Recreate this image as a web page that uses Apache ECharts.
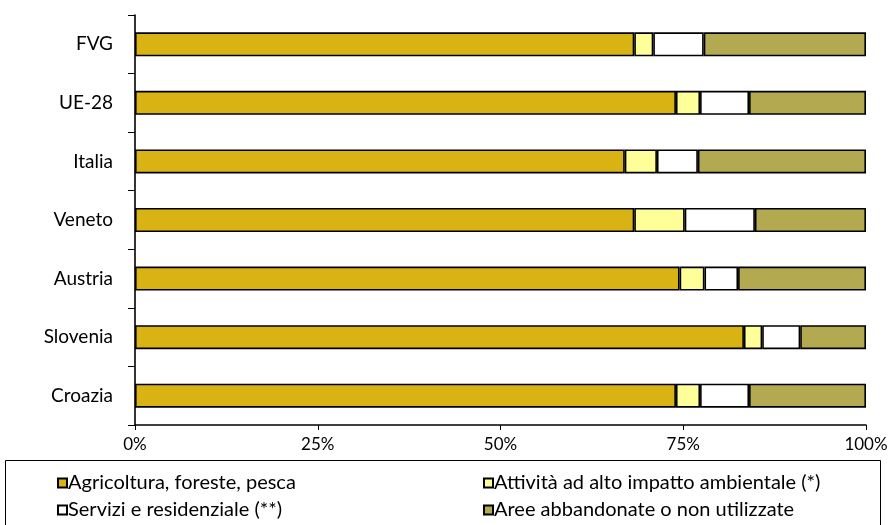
<!DOCTYPE html>
<html>
<head>
<meta charset="utf-8">
<script src="https://cdn.jsdelivr.net/npm/echarts@6/dist/echarts.min.js"></script>
<style>
  html, body { margin: 0; padding: 0; background: #fff; }
  #main { width: 891px; height: 525px; }
</style>
</head>
<body>
<div id="main"></div>
<script>
var regioni = ['FVG', 'UE-28', 'Italia', 'Veneto', 'Austria', 'Slovenia', 'Croazia'];
var agricoltura = [68.3, 74.0, 67.0, 68.3, 74.5, 83.3, 74.0];
var altoImpatto = [2.6, 3.3, 4.4, 6.9, 3.4, 2.5, 3.3];
var servizi = [6.9, 6.7, 5.6, 9.6, 4.6, 5.2, 6.7];
var abbandonate = [22.2, 16.0, 23.0, 15.2, 17.5, 9.0, 16.0];
var nomi = ['Agricoltura, foreste, pesca', 'Attività ad alto impatto ambientale (*)',
  'Servizi e residenziale (**)', 'Aree abbandonate o non utilizzate'];
var colori = ['#D9B313', '#FFFF99', '#FFFFFF', '#B3A950'];

var myChart = echarts.init(document.getElementById('main'));

function serie(i, dati) {
  return {
    name: nomi[i],
    type: 'bar',
    stack: 'tot',
    barWidth: 24,
    data: dati,
    itemStyle: { color: colori[i], borderColor: '#000', borderWidth: 1.6 }
  };
}

// una legenda per voce, due colonne
function legenda(i, left, top) {
  return {
    data: [nomi[i]],
    left: left,
    top: top,
    padding: 0,
    itemWidth: 9,
    itemHeight: 9,
    icon: 'rect',
    textStyle: { fontFamily: 'Lato', fontSize: 20, color: '#000', padding: [0, 0, 0, -4] }
  };
}

var option = {
  animation: false,
  textStyle: { fontFamily: 'Lato' },
  grid: { left: 135, right: 25, top: 15, bottom: 100 },
  graphic: [{
    type: 'rect',
    shape: { x: 5.5, y: 460.5, width: 875, height: 70 },
    style: { fill: 'none', stroke: '#000', lineWidth: 1 }
  }],
  legend: [
    legenda(0, 57, 473),
    legenda(1, 483, 473),
    legenda(2, 57, 500),
    legenda(3, 483, 500)
  ],
  xAxis: {
    type: 'value',
    min: 0,
    max: 100,
    interval: 25,
    axisLine: { show: true, lineStyle: { color: '#000', width: 1.6 } },
    axisTick: { show: true, length: 5, lineStyle: { color: '#000' } },
    splitLine: { show: false },
    axisLabel: { formatter: '{value}%', fontSize: 17, color: '#000', margin: 11, fontFamily: 'Lato' }
  },
  yAxis: {
    type: 'category',
    inverse: true,
    data: regioni,
    axisLine: { show: true, lineStyle: { color: '#000', width: 1.6 } },
    axisTick: { show: true, length: 7, lineStyle: { color: '#000' } },
    axisLabel: { fontSize: 19, color: '#000', margin: 22, fontFamily: 'Lato' }
  },
  series: [
    serie(0, agricoltura),
    serie(1, altoImpatto),
    serie(2, servizi),
    serie(3, abbandonate)
  ]
};
myChart.setOption(option);
</script>
</body>
</html>
